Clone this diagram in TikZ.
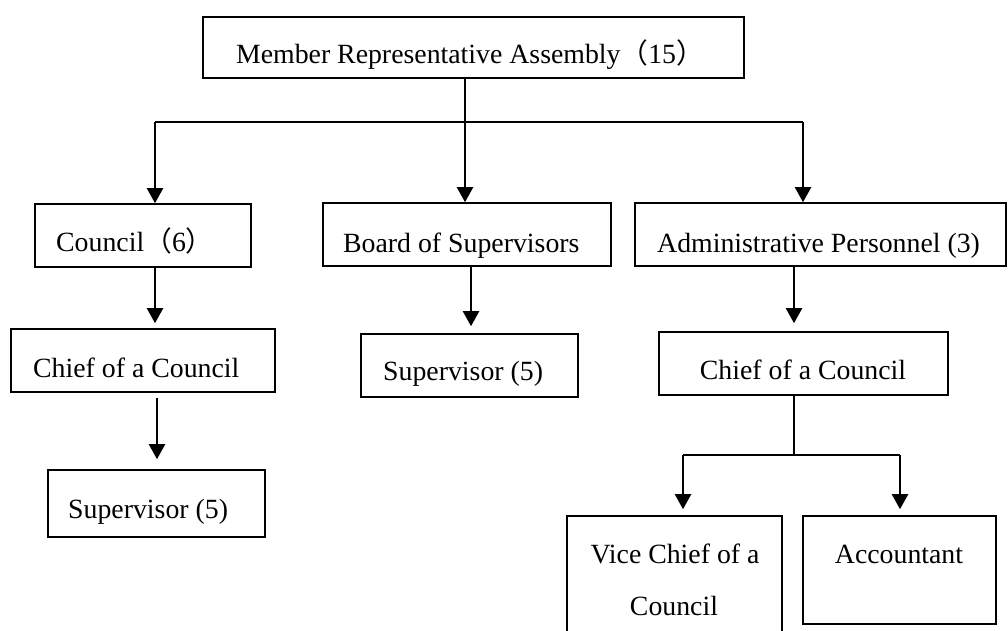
\documentclass[tikz,border=0pt]{standalone}
\usepackage{fontspec}
\setmainfont{Liberation Serif}
\newfontfamily\cjk{Noto Sans CJK SC}
\usetikzlibrary{arrows.meta}
\tikzset{
  box/.style={draw=black, line width=1.6pt, inner sep=0pt, fill=none},
  lbl/.style={inner sep=0pt, font=\fontsize{27.8}{33}\selectfont},
  arr/.style={line width=2.2pt, -{Triangle[length=15pt,width=16pt]}},
  conn/.style={line width=1.6pt},
  thin/.style={line width=1.2pt}
}
\begin{document}
\begin{tikzpicture}[x=1pt,y=-1pt]
\useasboundingbox (0,0) rectangle (1008,630);
% boxes
\node[box, minimum width=541, minimum height=61] (top) at (473.5,47.5) {};
\node[box, minimum width=216, minimum height=63] (council) at (143,235.5) {};
\node[box, minimum width=288, minimum height=63] (board) at (467,234.5) {};
\node[box, minimum width=371, minimum height=63] (admin) at (820.5,234.5) {};
\node[box, minimum width=264, minimum height=63] (chiefL) at (143,360.5) {};
\node[box, minimum width=217, minimum height=63] (supM) at (469.5,365.5) {};
\node[box, minimum width=289, minimum height=63] (chiefR) at (803.5,363.5) {};
\node[box, minimum width=217, minimum height=67] (supL) at (156.5,503.5) {};
\node[box, minimum width=215, minimum height=128] (vice) at (674.5,580) {};
\node[box, minimum width=193, minimum height=108] (acc) at (899.5,570) {};
% texts
\node[lbl, anchor=base] (ttop) at (470,63) {Member Representative Assembly{\cjk （}15{\cjk ）}};
\node[lbl, anchor=base west] (tcouncil) at (56,251) {Council{\cjk （}6{\cjk ）}};
\node[lbl, anchor=base west] (tboard) at (343,252) {Board of Supervisors};
\node[lbl, anchor=base west] (tadmin) at (657,252) {Administrative Personnel (3)};
\node[lbl, anchor=base west] (tchiefL) at (33,377) {Chief of a Council};
\node[lbl, anchor=base west] (tsupM) at (383,380) {Supervisor (5)};
\node[lbl, anchor=base] (tchiefR) at (803,379) {Chief of a Council};
\node[lbl, anchor=base west] (tsupL) at (68,518) {Supervisor (5)};
\node[lbl, anchor=base] (tvice1) at (675,563) {Vice Chief of a};
\node[lbl, anchor=base] (tvice2) at (674,615) {Council};
\node[lbl, anchor=base] (tacc) at (899,563) {Accountant};
% column coordinates
\coordinate (xL) at (155,0);
\coordinate (xM) at (465,0);
\coordinate (xR) at (803,0);
\coordinate (xL2) at (157,0);
\coordinate (xM2) at (471,0);
\coordinate (xR2) at (794,0);
\coordinate (xV) at (683,0);
\coordinate (xA) at (900,0);
\coordinate (bus) at (0,122);
\coordinate (bus2) at (0,455);
% connectors from top
\draw[conn] (xL |- bus) -- (xR |- bus);
\draw[arr] (top.south -| xM) -- (board.north -| xM);
\draw[arr, line cap=butt] (xL |- bus) -- (council.north -| xL);
\draw[arr] (xR |- bus) -- (admin.north -| xR);
% second level
\draw[arr, shorten >=5pt] (council.south -| xL) -- (chiefL.north -| xL);
\draw[arr, shorten >=7pt] (board.south -| xM2) -- (supM.north -| xM2);
\draw[arr, shorten >=8pt] (admin.south -| xR2) -- (chiefR.north -| xR2);
\draw[arr, shorten <=5pt, shorten >=10pt] (chiefL.south -| xL2) -- (supL.north -| xL2);
% right subtree
\draw[thin] (chiefR.south -| xR2) -- (xR2 |- bus2);
\draw[conn] (xV |- bus2) -- (xA |- bus2);
\draw[arr, shorten >=6pt] (xV |- bus2) -- (vice.north -| xV);
\draw[arr, shorten >=6pt] (xA |- bus2) -- (acc.north -| xA);
\end{tikzpicture}
\end{document}
